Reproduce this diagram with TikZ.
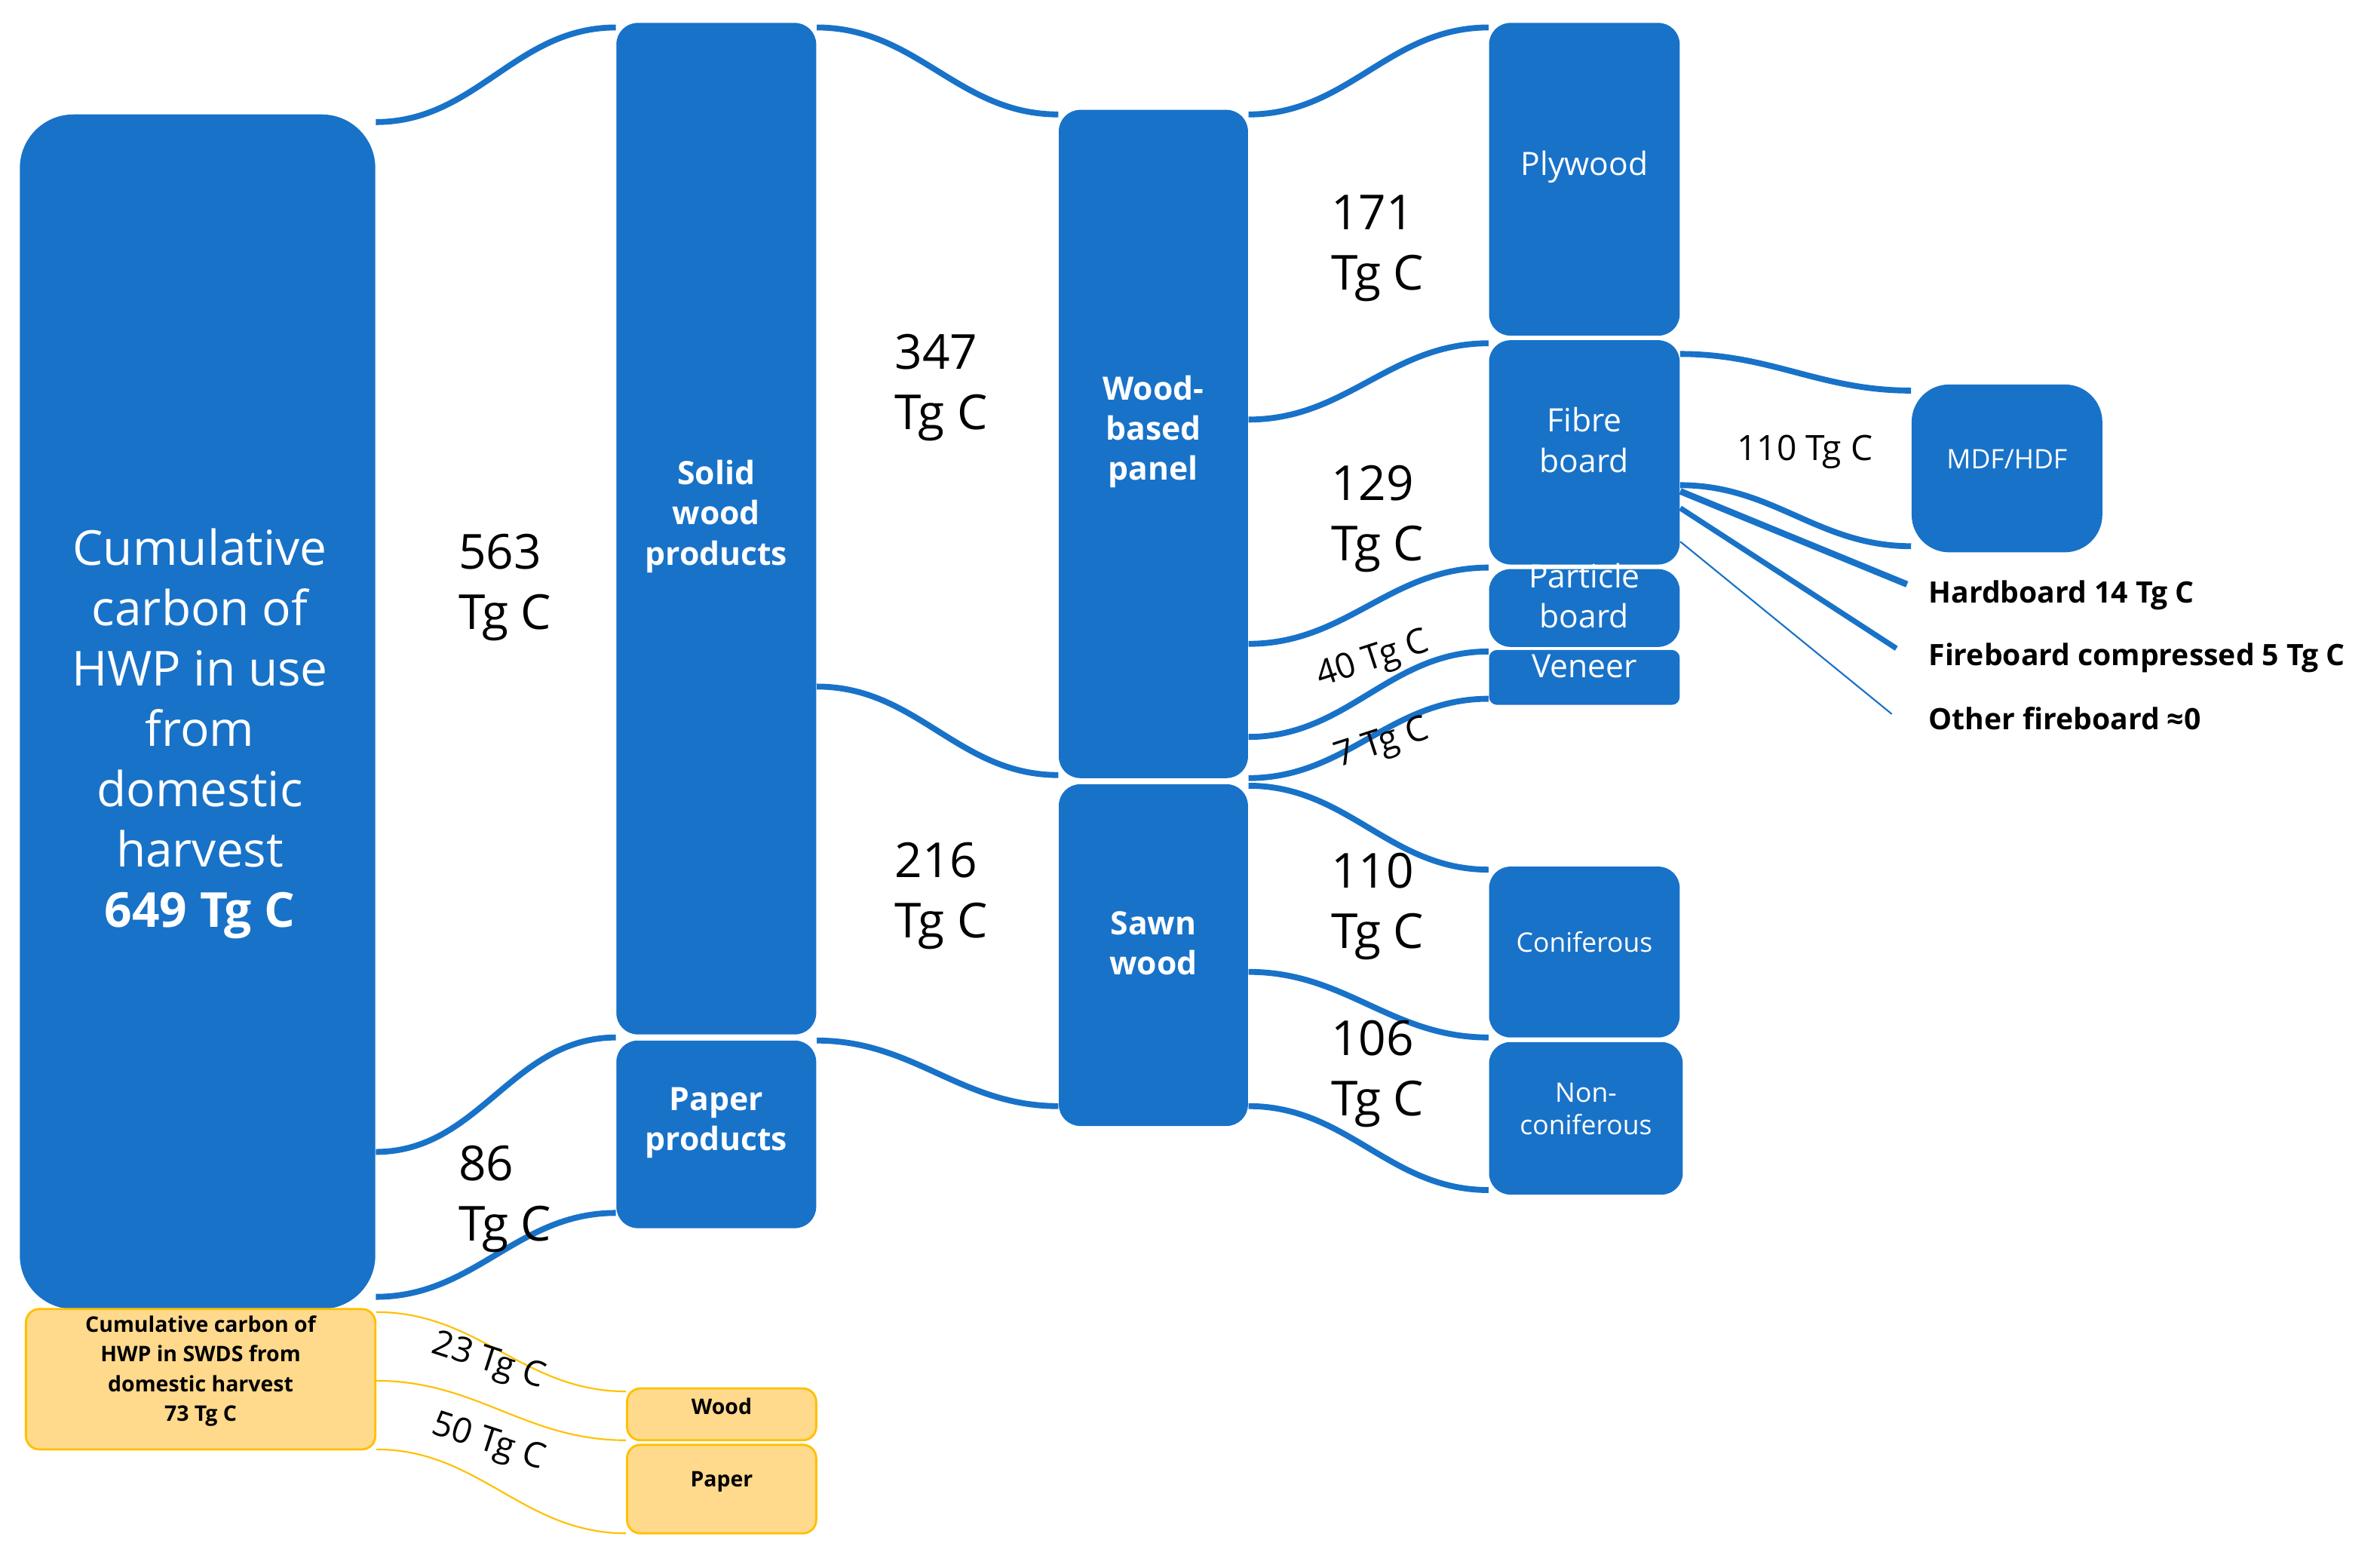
\documentclass[tikz,border=0pt]{standalone}
\usepackage{fontspec}
\setmainfont{Open Sans}
\usetikzlibrary{fit}
\definecolor{bl}{HTML}{1872C8}
\definecolor{yf}{HTML}{FFD98C}
\definecolor{yb}{HTML}{FFC000}
\begin{document}
\begin{tikzpicture}[x=0.02cm,y=-0.02cm,
 box/.style={fill=bl,draw=none,rounded corners=8pt,inner sep=0pt,text=white,align=center,font=\fontsize{12}{15}\selectfont},
 ybox/.style={fill=yf,draw=yb,line width=0.8pt,rounded corners=5pt,inner sep=0pt,align=center,font=\bfseries\fontsize{8}{11}\selectfont},
 flow/.style={draw=bl,line width=2.2pt},
 yflow/.style={draw=yb,line width=0.6pt},
 lab/.style={font=\fontsize{18}{22.5}\selectfont,align=left},
 slab/.style={font=\fontsize{13}{15}\selectfont},
 rlab/.style={font=\bfseries\fontsize{11}{13}\selectfont,anchor=west}]
\useasboundingbox (0,0) rectangle (1560,1015);
% nodes
\node[box,rounded corners=20pt,fit={(13,75)(246,858)}] (cum) {};
\node[text=white,align=center,font=\fontsize{18}{22.5}\selectfont] (cumt) at (131,481) {Cumulative\\carbon of\\HWP in use\\from\\domestic\\harvest\\\textbf{649 Tg C}};
\node[ybox,fit={(17,858)(246,950)}] (swds) {Cumulative carbon of\\HWP in SWDS from\\domestic harvest\\73 Tg C};
\node[box,fit={(404,15)(535,678)},font=\bfseries\fontsize{12}{15}\selectfont] (solid) {Solid\\wood\\products};
\node[box,fit={(404,682)(535,805)},font=\bfseries\fontsize{12}{15}\selectfont] (paper) {Paper\\products};
\node[box,fit={(694,72)(818,510)},font=\bfseries\fontsize{12}{15}\selectfont] (wbp) {Wood-\\based\\panel\\[4em]};
\node[box,fit={(694,514)(818,738)},font=\bfseries\fontsize{12}{15}\selectfont] (sawn) {Sawn\\wood};
\node[box,fit={(976,15)(1101,220)}] (ply) {Plywood};
\node[box,fit={(976,223)(1101,370)}] (fibre) {Fibre\\board\\[1.3em]};
\node[box,fit={(976,373)(1101,424)}] (part) {Particle\\board};
\node[box,rounded corners=3pt,fit={(976,426)(1101,462)}] (ven) {Veneer};
\node[box,rounded corners=14pt,fit={(1253,252)(1378,362)},font=\fontsize{10}{12}\selectfont] (mdf) {MDF/HDF};
\node[box,fit={(976,568)(1101,680)},font=\fontsize{10}{12}\selectfont] (con) {Coniferous};
\node[box,fit={(976,683)(1103,783)},font=\fontsize{10}{12}\selectfont] (ncon) {Non-\\coniferous};
\node[ybox,fit={(411,910)(535,944)}] (ywood) {Wood};
\node[ybox,fit={(411,947)(535,1005)}] (ypaper) {Paper};
% flows
\draw[flow] (cum.east |- 0,80) to[out=0,in=180] (solid.west |- 0,18);
\draw[flow] (cum.east |- 0,755) to[out=0,in=180] (paper.west |- 0,680);
\draw[flow] (cum.east |- 0,850) to[out=0,in=180] (paper.west |- 0,795);
\draw[flow] (solid.east |- 0,18) to[out=0,in=180] (wbp.west |- 0,75);
\draw[flow] (solid.east |- 0,450) to[out=0,in=180] (wbp.west |- 0,508);
\draw[flow] (paper.east |- 0,682) to[out=0,in=180] (sawn.west |- 0,725);
\draw[flow] (wbp.east |- 0,75) to[out=0,in=180] (ply.west |- 0,18);
\draw[flow] (wbp.east |- 0,275) to[out=0,in=180] (fibre.west |- 0,225);
\draw[flow] (wbp.east |- 0,422) to[out=0,in=180] (part.west |- 0,372);
\draw[flow] (wbp.east |- 0,483) to[out=0,in=180] (ven.west |- 0,427);
\draw[flow] (wbp.east |- 0,510) to[out=0,in=180] (ven.west |- 0,458);
\draw[flow] (sawn.east |- 0,515) to[out=0,in=180] (con.west |- 0,570);
\draw[flow] (sawn.east |- 0,637) to[out=0,in=180] (ncon.west |- 0,680);
\draw[flow] (sawn.east |- 0,725) to[out=0,in=180] (ncon.west |- 0,780);
\draw[flow] (fibre.east |- 0,232) to[out=0,in=180] (mdf.west |- 0,256);
\draw[flow] (fibre.east |- 0,318) to[out=0,in=180] (mdf.west |- 0,358);
\coordinate (hb) at (1250,383);
\coordinate (fc) at (1243,425);
\coordinate (of) at (1240,468);
\draw[draw=bl,line width=2.4pt] (fibre.east |- 0,322) -- (hb);
\draw[draw=bl,line width=2pt] (fibre.east |- 0,333) -- (fc);
\draw[draw=bl,line width=0.6pt] (fibre.east |- 0,355) -- (of);
\draw[yflow] (swds.east |- 0,860) to[out=0,in=180] (ywood.west |- 0,912);
\draw[yflow] (swds.east |- 0,905) to[out=0,in=180] (ywood.west |- 0,944);
\draw[yflow] (swds.east |- 0,950) to[out=0,in=180] (ypaper.west |- 0,1005);
% labels
\node[lab] at (331,385) {563\\Tg C};
\node[lab] at (331,786) {86\\Tg C};
\node[lab] at (617,254) {347\\Tg C};
\node[lab] at (617,587) {216\\Tg C};
\node[lab] at (903,163) {171\\Tg C};
\node[lab] at (903,340) {129\\Tg C};
\node[lab] at (903,594) {110\\Tg C};
\node[lab] at (903,704) {106\\Tg C};
\node[slab] at (1183,296) {110 Tg C};
\node[slab,rotate=18] at (900,433) {40 Tg C};
\node[slab,rotate=18] at (906,488) {7 Tg C};
\node[slab,rotate=-18] at (320,893) {23 Tg C};
\node[slab,rotate=-18] at (320,946) {50 Tg C};
\node[rlab] at (1258,390) {Hardboard 14 Tg C};
\node[rlab] at (1258,431) {Fireboard compressed 5 Tg C};
\node[rlab] at (1258,471) {Other fireboard ≈0};
\end{tikzpicture}
\end{document}
